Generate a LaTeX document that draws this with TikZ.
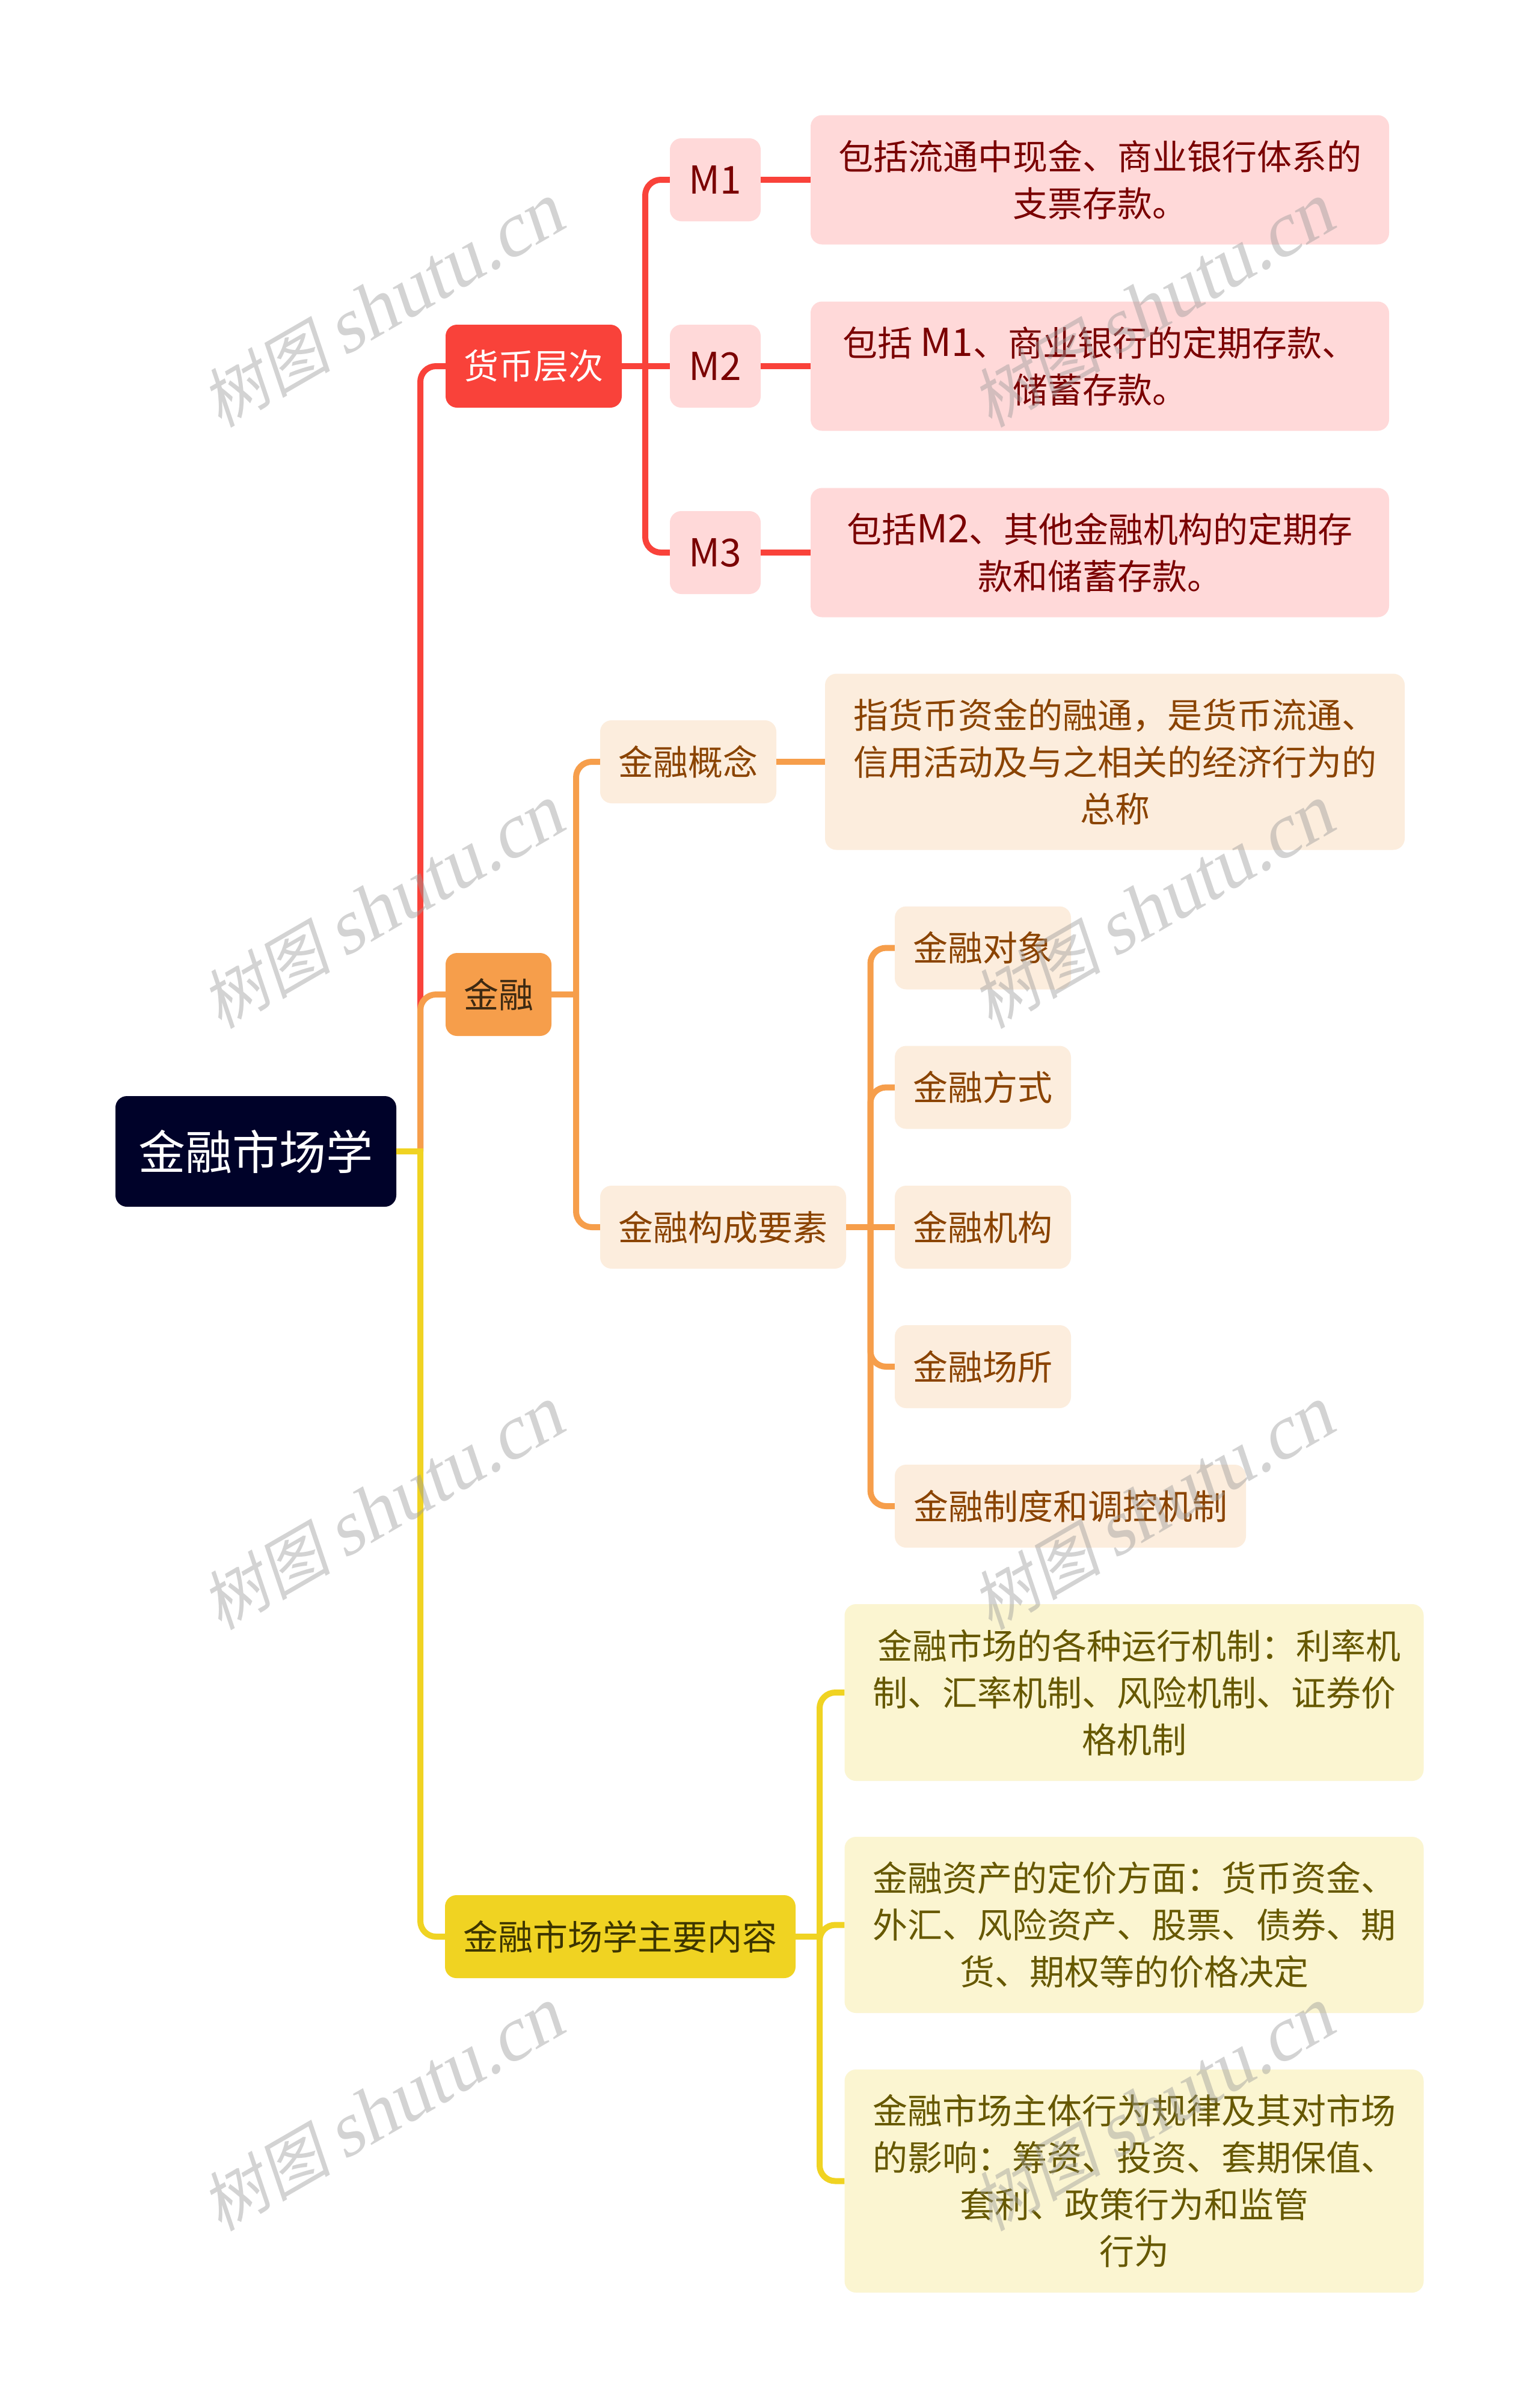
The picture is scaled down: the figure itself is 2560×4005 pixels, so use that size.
\documentclass[tikz,border=0pt]{standalone}
\usepackage{fontspec}
\setmainfont{Noto Sans CJK SC}
\newfontfamily\wmcjk[FakeSlant=0.2]{Noto Sans CJK SC}
\newfontfamily\wmlat[FakeSlant=0.2]{Liberation Serif}
\definecolor{rootc}{HTML}{000229}
\definecolor{redc}{HTML}{F9423A}
\definecolor{redp}{HTML}{FFD9D9}
\definecolor{redt}{HTML}{7A0000}
\definecolor{orac}{HTML}{F69E4B}
\definecolor{orap}{HTML}{FCEDDD}
\definecolor{orat}{HTML}{8A4300}
\definecolor{orad}{HTML}{3E2A12}
\definecolor{yelc}{HTML}{F0D322}
\definecolor{yelp}{HTML}{FBF5D1}
\definecolor{yelt}{HTML}{665800}
\definecolor{yeld}{HTML}{3D3500}
\tikzset{
  x=1pt,y=-1pt,
  boxn/.style={rectangle,rounded corners=19pt,inner sep=0pt,align=center,
    font=\fontsize{58}{78}\selectfont},
  rootn/.style={boxn,fill=rootc,text=white,font=\fontsize{78}{96}\selectfont,
    minimum width=467pt,minimum height=184pt},
  redmain/.style={boxn,fill=redc,text=white,minimum height=138pt},
  redsub/.style={boxn,fill=redp,text=redt,minimum height=138pt,minimum width=151pt,
    font=\fontsize{64}{78}\selectfont},
  reddet/.style={boxn,fill=redp,text=redt,minimum height=215pt,minimum width=962pt},
  oramain/.style={boxn,fill=orac,text=orad,minimum height=138pt},
  orasub/.style={boxn,fill=orap,text=orat,minimum height=138pt},
  yelmain/.style={boxn,fill=yelc,text=yeld,minimum height=138pt},
  yelsub/.style={boxn,fill=yelp,text=yelt,minimum width=963pt},
  linkr/.style={draw=redc,line width=10pt,rounded corners=26pt},
  linko/.style={draw=orac,line width=10pt,rounded corners=26pt},
  linky/.style={draw=yelc,line width=10pt,rounded corners=26pt},
  wmark/.style={rotate=30,anchor=base,text=black!40,opacity=.43,inner sep=0pt},
}
\newcommand{\wmtext}{{\wmcjk\fontsize{108}{108}\selectfont 树图}\hspace{22pt}{\wmlat\fontsize{128}{128}\selectfont shutu.cn}}
\newcommand{\largem}[1]{{\fontsize{64}{78}\selectfont #1}}
\begin{document}
\begin{tikzpicture}
\fill[white] (0,0) rectangle (2560,4005);
\useasboundingbox (0,0) rectangle (2560,4005);
% nodes
\node[rootn] (root) at (425.5,1915) {金融市场学};
\node[redmain,minimum width=293pt] (cur) at (887.5,609) {货币层次};
\node[redsub] (m1) at (1189.5,299) {M1};
\node[redsub] (m2) at (1189.5,609) {M2};
\node[redsub] (m3) at (1189.5,919) {M3};
\node[reddet] (d1) at (1829,299) {包括流通中现金、商业银行体系的\\支票存款。};
\node[reddet] (d2) at (1829,609) {包括 \largem{M1}、商业银行的定期存款、\\储蓄存款。};
\node[reddet] (d3) at (1829,919) {包括\largem{M2}、其他金融机构的定期存\\款和储蓄存款。};
\node[oramain,minimum width=176pt] (fin) at (829,1654) {金融};
\node[orasub,minimum width=293pt] (con) at (1144.5,1267) {金融概念};
\node[orasub,minimum width=964pt,minimum height=293pt] (cond) at (1854,1267) {指货币资金的融通，是货币流通、\\信用活动及与之相关的经济行为的\\总称};
\node[orasub,minimum width=409pt] (ele) at (1202.5,2041) {金融构成要素};
\node[orasub,minimum width=293pt] (e1) at (1634.5,1576.5) {金融对象};
\node[orasub,minimum width=293pt] (e2) at (1634.5,1808.5) {金融方式};
\node[orasub,minimum width=293pt] (e3) at (1634.5,2041) {金融机构};
\node[orasub,minimum width=293pt] (e4) at (1634.5,2273) {金融场所};
\node[orasub,minimum width=584pt] (e5) at (1780,2505) {金融制度和调控机制};
\node[yelmain,minimum width=583pt] (mkt) at (1031.5,3221) {金融市场学主要内容};
\node[yelsub,minimum height=294pt] (y1) at (1886,2815) {\hspace*{16pt}金融市场的各种运行机制：利率机\\制、汇率机制、风险机制、证券价\\格机制};
\node[yelsub,minimum height=293pt] (y2) at (1886,3201.5) {金融资产的定价方面：货币资金、\\外汇、风险资产、股票、债券、期\\货、期权等的价格决定};
\node[yelsub,minimum height=371pt] (y3) at (1886,3627.5) {金融市场主体行为规律及其对市场\\的影响：筹资、投资、套期保值、\\套利、政策行为和监管\\行为};
% junctions
\coordinate (stem) at (699,1915);
\coordinate (jr) at (1073,609);
\coordinate (jo) at (958,1654);
\coordinate (je) at (1447.5,2041);
\coordinate (jy) at (1363,3221);
% connectors
\draw[linkr] (stem) |- (cur.west);
\draw[linko] (stem) |- (fin.west);
\draw[linky] (stem) |- (mkt.west);
\draw[linky] (root.east) -- ([xshift=5pt]stem);
\draw[linkr] (cur.east) -- (m2.west);
\draw[linkr] (jr) |- (m1.west);
\draw[linkr] (jr) |- (m3.west);
\draw[linkr] (m1.east) -- (d1.west);
\draw[linkr] (m2.east) -- (d2.west);
\draw[linkr] (m3.east) -- (d3.west);
\draw[linko] (fin.east) -- ([xshift=5pt]jo);
\draw[linko] (jo) |- (con.west);
\draw[linko] (jo) |- (ele.west);
\draw[linko] (con.east) -- (cond.west);
\draw[linko] (ele.east) -- (e3.west);
\draw[linko] (je) |- (e1.west);
\draw[linko] (je) |- (e2.west);
\draw[linko] (je) |- (e4.west);
\draw[linko] (je) |- (e5.west);
\draw[linky] (mkt.east) -- ([xshift=5pt]jy);
\draw[linky] (jy) |- (y1.west);
\draw[linky] (jy) |- (y2.west);
\draw[linky] (jy) |- (y3.west);
% watermarks
\node[wmark] (w1) at (656,545) {\wmtext};
\node[wmark] (w2) at (1937,545) {\wmtext};
\node[wmark] (w3) at (656,1545.3) {\wmtext};
\node[wmark] (w4) at (1937,1545.3) {\wmtext};
\node[wmark] (w5) at (656,2545.6) {\wmtext};
\node[wmark] (w6) at (1937,2545.6) {\wmtext};
\node[wmark] (w7) at (656,3545.9) {\wmtext};
\node[wmark] (w8) at (1937,3545.9) {\wmtext};
\end{tikzpicture}
\end{document}
